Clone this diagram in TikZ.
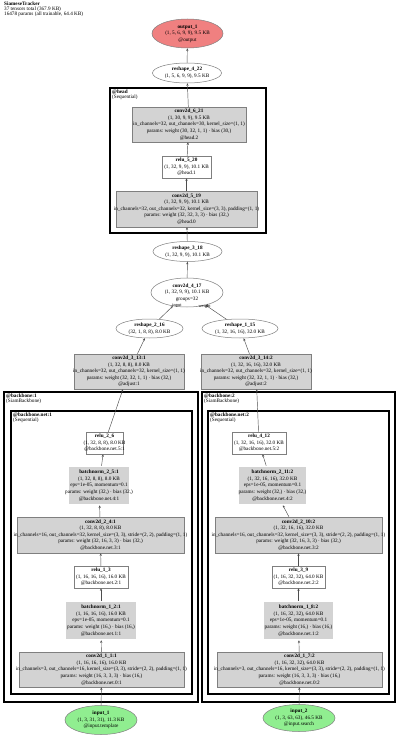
\documentclass[tikz,border=0pt]{standalone}
\usepackage{fontspec}
\setmainfont{Liberation Serif}
\usetikzlibrary{shapes.geometric,arrows.meta}
\definecolor{boxfill}{HTML}{D3D3D3}
\definecolor{boxline}{HTML}{7F7F7F}
\definecolor{edgecol}{HTML}{4D4D4D}
\definecolor{outfill}{HTML}{F08080}
\definecolor{infill}{HTML}{90EE90}
\newcommand\lc[1]{\makebox[0pt]{#1}}
\begin{document}
\begin{tikzpicture}[x=1pt,y=-1pt,
  every node/.style={font=\fontsize{5.2}{6.6}\selectfont, inner sep=0pt, align=center},
  plainbox/.style={draw=boxline, line width=0.5pt, fill=white, rectangle},
  graybox/.style={plainbox, fill=boxfill},
  bnbox/.style={graybox, double=white, double distance=1.5pt},
  oval/.style={draw=boxline, line width=0.5pt, fill=white, ellipse},
  arr/.style={draw=edgecol, line width=0.45pt, -{Stealth[length=2.6pt,width=2.2pt]}},
  clusterbox/.style={draw=black, line width=1.8pt},
  innercluster/.style={draw=black, line width=1.2pt},
  clabel/.style={anchor=north west, align=left, font=\fontsize{5.2}{5.2}\selectfont},
  elabel/.style={font=\fontsize{4.4}{5}\selectfont},
]
\useasboundingbox (0,0) rectangle (400,738);

% title
\node[anchor=north west, align=left, font=\fontsize{5.2}{5}\selectfont] (title) at (4,1.5)
  {\textbf{SiameseTracker}\\37 tensors total (367.9 KB)\\16478 params (all trainable, 64.4 KB)};

% clusters
\draw[clusterbox] (110,88) rectangle (266,233);
\node[clabel] (headlab) at (112,89.5) {\textbf{@head}\\(Sequential)};
\draw[clusterbox] (4,392) rectangle (198,702);
\node[clabel] (bb1lab) at (6,393.5) {\textbf{@backbone:1}\\(SiamBackbone)};
\draw[innercluster] (11,411) rectangle (192,694);
\node[clabel] (bbn1lab) at (13,412.5) {\textbf{@backbone.net:1}\\(Sequential)};
\draw[clusterbox] (202,392) rectangle (395,702);
\node[clabel] (bb2lab) at (204,393.5) {\textbf{@backbone:2}\\(SiamBackbone)};
\draw[innercluster] (208,411) rectangle (389,694);
\node[clabel] (bbn2lab) at (210,412.5) {\textbf{@backbone.net:2}\\(Sequential)};

% head column
\node[oval, fill=outfill, minimum width=71, minimum height=29] (out1) at (187.5,33.5)
  {\lc{\textbf{output\_1}}\\\lc{(1, 5, 6, 9, 9), 9.5 KB}\\\lc{@output}};
\node[oval, minimum width=69, minimum height=20] (r422) at (187,73)
  {\lc{\textbf{reshape\_4\_22}}\\\lc{(1, 5, 6, 9, 9), 9.5 KB}};
\node[graybox, minimum width=114, minimum height=35] (c621) at (189,124.5)
  {\lc{\textbf{conv2d\_6\_21}}\\\lc{(1, 30, 9, 9), 9.5 KB}\\\lc{in\_channels=32, out\_channels=30, kernel\_size=(1, 1)}\\\lc{params: weight (30, 32, 1, 1) · bias (30,)}\\\lc{@head.2}};
\node[plainbox, minimum width=49, minimum height=22] (relu520) at (186.5,167)
  {\lc{\textbf{relu\_5\_20}}\\\lc{(1, 32, 9, 9), 10.1 KB}\\\lc{@head.1}};
\node[graybox, minimum width=141, minimum height=36] (c519) at (186.5,209)
  {\lc{\textbf{conv2d\_5\_19}}\\\lc{(1, 32, 9, 9), 10.1 KB}\\\lc{in\_channels=32, out\_channels=32, kernel\_size=(3, 3), padding=(1, 1)}\\\lc{params: weight (32, 32, 3, 3) · bias (32,)}\\\lc{@head.0}};
\node[oval, minimum width=69, minimum height=20] (r318) at (187.5,251.5)
  {\lc{\textbf{reshape\_3\_18}}\\\lc{(1, 32, 9, 9), 10.1 KB}};
\node[oval, minimum width=72, minimum height=29] (c417) at (187,292.5)
  {\lc{\textbf{conv2d\_4\_17}}\\\lc{(1, 32, 9, 9), 10.1 KB}\\\lc{groups=32}};
\node[oval, minimum width=67, minimum height=19] (r216) at (149.5,328.5)
  {\lc{\textbf{reshape\_2\_16}}\\\lc{(32, 1, 8, 8), 8.0 KB}};
\node[oval, minimum width=76, minimum height=19] (r115) at (240,328.5)
  {\lc{\textbf{reshape\_1\_15}}\\\lc{(1, 32, 16, 16), 32.0 KB}};
\node[graybox, minimum width=110, minimum height=35] (c313) at (129,371.5)
  {\lc{\textbf{conv2d\_3\_13:1}}\\\lc{(1, 32, 8, 8), 8.0 KB}\\\lc{in\_channels=32, out\_channels=32, kernel\_size=(1, 1)}\\\lc{params: weight (32, 32, 1, 1) · bias (32,)}\\\lc{@adjust:1}};
\node[graybox, minimum width=110, minimum height=35] (c314) at (256,371.5)
  {\lc{\textbf{conv2d\_3\_14:2}}\\\lc{(1, 32, 16, 16), 32.0 KB}\\\lc{in\_channels=32, out\_channels=32, kernel\_size=(1, 1)}\\\lc{params: weight (32, 32, 1, 1) · bias (32,)}\\\lc{@adjust:2}};

% left backbone
\node[plainbox, minimum width=37, minimum height=22] (relu26) at (104.5,443)
  {\lc{\textbf{relu\_2\_6}}\\\lc{(1, 32, 8, 8), 8.0 KB}\\\lc{@backbone.net.5:1}};
\node[bnbox, minimum width=62, minimum height=39] (bn25) at (99,485.5)
  {\lc{\textbf{batchnorm\_2\_5:1}}\\\lc{(1, 32, 8, 8), 8.0 KB}\\\lc{eps=1e-05, momentum=0.1}\\\lc{params: weight (32,) · bias (32,)}\\\lc{@backbone.net.4:1}};
\node[graybox, minimum width=167, minimum height=36] (c24) at (100.5,535)
  {\lc{\textbf{conv2d\_2\_4:1}}\\\lc{(1, 32, 8, 8), 8.0 KB}\\\lc{in\_channels=16, out\_channels=32, kernel\_size=(3, 3), stride=(2, 2), padding=(1, 1)}\\\lc{params: weight (32, 16, 3, 3) · bias (32,)}\\\lc{@backbone.net.3:1}};
\node[plainbox, minimum width=54, minimum height=22] (relu13) at (101,577)
  {\lc{\textbf{relu\_1\_3}}\\\lc{(1, 16, 16, 16), 16.0 KB}\\\lc{@backbone.net.2:1}};
\node[bnbox, minimum width=72, minimum height=39] (bn12) at (101,620.5)
  {\lc{\textbf{batchnorm\_1\_2:1}}\\\lc{(1, 16, 16, 16), 16.0 KB}\\\lc{eps=1e-05, momentum=0.1}\\\lc{params: weight (16,) · bias (16,)}\\\lc{@backbone.net.1:1}};
\node[graybox, minimum width=165, minimum height=35] (c11) at (101.5,669.5)
  {\lc{\textbf{conv2d\_1\_1:1}}\\\lc{(1, 16, 16, 16), 16.0 KB}\\\lc{in\_channels=3, out\_channels=16, kernel\_size=(3, 3), stride=(2, 2), padding=(1, 1)}\\\lc{params: weight (16, 3, 3, 3) · bias (16,)}\\\lc{@backbone.net.0:1}};
\node[oval, fill=infill, minimum width=72, minimum height=29] (in1) at (101,720)
  {\lc{\textbf{input\_1}}\\\lc{(1, 3, 31, 31), 11.3 KB}\\\lc{@input.template}};

% right backbone
\node[plainbox, minimum width=54, minimum height=22] (relu412) at (259,443)
  {\lc{\textbf{relu\_4\_12}}\\\lc{(1, 32, 16, 16), 32.0 KB}\\\lc{@backbone.net.5:2}};
\node[bnbox, minimum width=69, minimum height=39] (bn211) at (272.5,485.5)
  {\lc{\textbf{batchnorm\_2\_11:2}}\\\lc{(1, 32, 16, 16), 32.0 KB}\\\lc{eps=1e-05, momentum=0.1}\\\lc{params: weight (32,) · bias (32,)}\\\lc{@backbone.net.4:2}};
\node[graybox, minimum width=167, minimum height=36] (c210) at (298.5,535)
  {\lc{\textbf{conv2d\_2\_10:2}}\\\lc{(1, 32, 16, 16), 32.0 KB}\\\lc{in\_channels=16, out\_channels=32, kernel\_size=(3, 3), stride=(2, 2), padding=(1, 1)}\\\lc{params: weight (32, 16, 3, 3) · bias (32,)}\\\lc{@backbone.net.3:2}};
\node[plainbox, minimum width=53, minimum height=22] (relu39) at (298.5,577)
  {\lc{\textbf{relu\_3\_9}}\\\lc{(1, 16, 32, 32), 64.0 KB}\\\lc{@backbone.net.2:2}};
\node[bnbox, minimum width=71, minimum height=39] (bn18) at (298.5,620.5)
  {\lc{\textbf{batchnorm\_1\_8:2}}\\\lc{(1, 16, 32, 32), 64.0 KB}\\\lc{eps=1e-05, momentum=0.1}\\\lc{params: weight (16,) · bias (16,)}\\\lc{@backbone.net.1:2}};
\node[graybox, minimum width=165, minimum height=35] (c17) at (299.5,669.5)
  {\lc{\textbf{conv2d\_1\_7:2}}\\\lc{(1, 16, 32, 32), 64.0 KB}\\\lc{in\_channels=3, out\_channels=16, kernel\_size=(3, 3), stride=(2, 2), padding=(1, 1)}\\\lc{params: weight (16, 3, 3, 3) · bias (16,)}\\\lc{@backbone.net.0:2}};
\node[oval, fill=infill, minimum width=72, minimum height=27] (in2) at (299,718)
  {\lc{\textbf{input\_2}}\\\lc{(1, 3, 63, 63), 46.5 KB}\\\lc{@input.search}};

% edges
\draw[arr] (in1) -- (c11);
\draw[arr] (c11) -- (bn12);
\draw[arr] (bn12) -- (relu13);
\draw[arr] (relu13) -- (c24);
\draw[arr] (c24) -- (bn25);
\draw[arr] (bn25) -- (relu26);
\draw[arr] (relu26) -- (c313);
\draw[arr] (in2) -- (c17);
\draw[arr] (c17) -- (bn18);
\draw[arr] (bn18) -- (relu39);
\draw[arr] (relu39) -- (c210);
\draw[arr] (c210) -- (bn211);
\draw[arr] (bn211) -- (relu412);
\draw[arr] (relu412) -- (c314);
\draw[arr] (c313) -- (r216);
\draw[arr] (c314) -- (r115);
\draw[arr] (r216) -- (c417);
\draw[arr] (r115) -- (c417);
\draw[arr] (c417) -- (r318);
\draw[arr] (r318) -- (c519);
\draw[arr] (c519) -- (relu520);
\draw[arr] (relu520) -- (c621);
\draw[arr] (c621) -- (r422);
\draw[arr] (r422) -- (out1);

\node[elabel] (lblin) at (177,306) {input};
\node[elabel] (lblw) at (204.5,306) {weight};
\end{tikzpicture}
\end{document}
